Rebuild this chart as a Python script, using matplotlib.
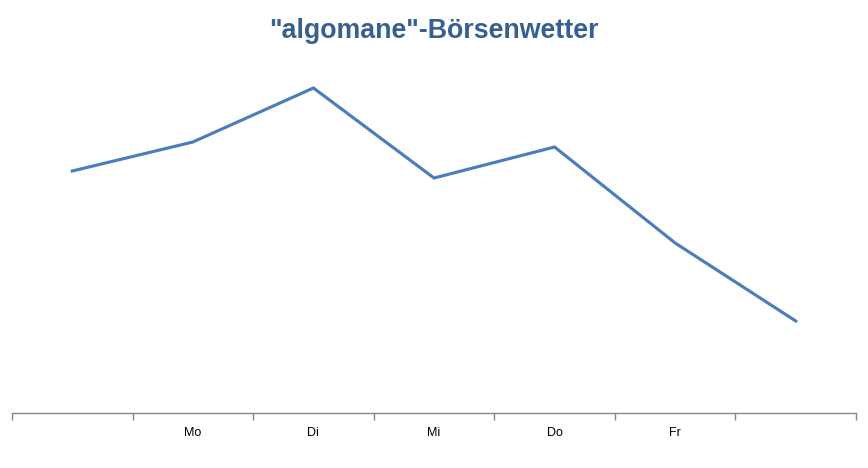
import matplotlib
matplotlib.use('Agg')
import matplotlib.pyplot as plt

# Börsenwetter, one value per day (arbitrary units)
days = ['', 'Mo', 'Di', 'Mi', 'Do', 'Fr', '']
values = [242, 271, 325, 235, 266, 170, 92]

plt.rcParams['font.family'] = ['Liberation Sans', 'DejaVu Sans']

fig = plt.figure(figsize=(8.68, 4.68), dpi=100)
ax = fig.add_axes([12/868, 1 - 413/468, 844/868, 363/468])

x = list(range(len(days)))
ax.plot(x, values, color='#4A7EBB', linewidth=2.25, solid_joinstyle='miter')

ax.set_xlim(-0.5, len(days) - 0.5)
ax.set_ylim(0, 363)

for s in ['top', 'right', 'left']:
    ax.spines[s].set_visible(False)
ax.spines['bottom'].set_color('#868686')
ax.spines['bottom'].set_linewidth(1)
ax.set_yticks([])

ax.set_xticks([i - 0.5 for i in range(len(days) + 1)])
ax.set_xticklabels([])
ax.set_xticks(x, minor=True)
ax.set_xticklabels(days, minor=True)
ax.tick_params(axis='x', which='major', length=5, color='#868686', width=1, direction='out')
ax.tick_params(axis='x', which='minor', length=0, labelsize=9, pad=10, labelcolor='black')

fig.text(0.5, 1 - 31/468, '"algomane"-Börsenwetter', ha='center', va='center',
         fontsize=19.3, fontweight='bold', color='#376092')

fig.savefig('out.png', dpi=100)
